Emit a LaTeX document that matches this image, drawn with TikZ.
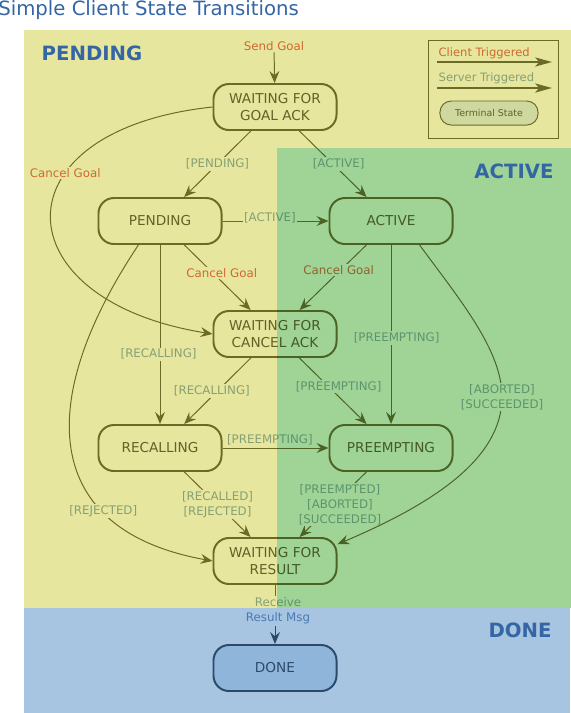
\documentclass[tikz,border=0pt]{standalone}
\usepackage{fontspec}
\setmainfont{DejaVu Sans}
\usetikzlibrary{arrows.meta}
\definecolor{pendbg}{RGB}{230,230,159}
\definecolor{actmul}{RGB}{177,236,242}
\definecolor{donebg}{RGB}{167,197,224}
\definecolor{stline}{RGB}{107,107,39}
\definecolor{sttext}{RGB}{98,98,38}
\definecolor{clientc}{RGB}{208,105,47}
\definecolor{serverc}{RGB}{135,160,115}
\definecolor{regionc}{RGB}{52,101,164}
\definecolor{termfill}{RGB}{207,216,158}
\definecolor{donefill}{RGB}{143,182,218}
\definecolor{doneline}{RGB}{43,74,107}
\definecolor{donemsg}{RGB}{74,122,181}

\begin{document}
\begin{tikzpicture}[x=0.025cm, y=0.025cm,
    state/.style={draw=stline, line width=1.4pt, rounded corners=11pt, minimum width=3.075cm, minimum height=1.15cm, align=center, text=sttext, font=\fontsize{9.7}{12}\selectfont},
    trans/.style={draw=stline, line width=0.7pt, -{Stealth[length=8.5pt, width=7pt, inset=3pt]}},
    keyarrow/.style={draw=stline, line width=1.4pt, -{Stealth[length=12pt, width=6.5pt, inset=3pt]}},
    srvlbl/.style={text=serverc, font=\fontsize{8.4}{10.6}\selectfont, align=center, inner sep=1pt},
    clilbl/.style={text=clientc, font=\fontsize{8.4}{10.6}\selectfont, align=center, inner sep=1pt},
    region/.style={text=regionc, font=\bfseries\fontsize{14}{16}\selectfont}]
        \useasboundingbox (0,0) rectangle (571,-713);
        \fill[pendbg] (24,-30) rectangle (571,-608);
        \fill[donebg] (24,-608) rectangle (570,-713);

        \node[anchor=base west, inner sep=0pt, text=regionc, font=\fontsize{14}{16}\selectfont] (title) at (-2,-15) {Simple Client State Transitions};
        \node[region] (L1) at (92,-53) {PENDING};
        \node[region] (L3) at (520,-630) {DONE};

        \draw[stline, line width=0.7pt] (428,-40) rectangle (558,-138);
        \node[clilbl, anchor=west, font=\fontsize{8.2}{10}\selectfont] (K1) at (437,-53) {Client Triggered};
        \coordinate (K1a) at (437,-62);
        \coordinate (K1b) at (552,-62);
        \draw[keyarrow] (K1a) -- (K1b);
        \node[srvlbl, anchor=west, font=\fontsize{8.2}{10}\selectfont] (K2) at (437,-78) {Server Triggered};
        \coordinate (K2a) at (437,-88);
        \coordinate (K2b) at (552,-88);
        \draw[keyarrow] (K2a) -- (K2b);
        \node[draw=stline, line width=0.7pt, fill=termfill, rounded corners=8pt, minimum width=2.45cm, minimum height=0.6cm, text=sttext, font=\fontsize{6.7}{8}\selectfont] (K3) at (489,-113) {Terminal State};

        \node[state] (S1) at (275,-107) {WAITING FOR\\GOAL ACK};
        \node[state] (S2) at (160,-221) {PENDING};
        \node[state] (S3) at (391,-221) {ACTIVE};
        \node[state] (S4) at (275,-334) {WAITING FOR\\CANCEL ACK};
        \node[state] (S5) at (160,-448) {RECALLING};
        \node[state] (S6) at (391,-448) {PREEMPTING};
        \node[state] (S7) at (275,-561) {WAITING FOR\\RESULT};
        \node[state, draw=doneline, fill=donefill, text=doneline] (S8) at (275,-668) {DONE};

        \node[clilbl] (G) at (274,-46) {Send Goal};
        \draw[trans] (G) -- (S1);
        \draw[trans] (S1) -- node[srvlbl, fill=pendbg] {[PENDING]} (S2);
        \draw[trans] (S1) -- node[srvlbl, fill=pendbg, xshift=4pt] {[ACTIVE]} (S3);
        \draw[trans] (S2) -- node[srvlbl, fill=pendbg, xshift=-4pt, yshift=2pt] {[ACTIVE]} (S3);
        \draw[trans] (S1.west) .. controls (-5,-130) and (0,-300) .. (S4.west) node[clilbl, fill=pendbg, pos=0.35] {Cancel Goal};
        \draw[trans] (S2) -- node[clilbl, fill=pendbg, xshift=3pt, yshift=3pt] {Cancel Goal} (S4);
        \draw[trans] (S3) -- node[clilbl, fill=pendbg, xshift=4pt, yshift=5pt] {Cancel Goal} (S4);
        \draw[trans] (S2) -- node[srvlbl, fill=pendbg, pos=0.61, xshift=-1pt] {[RECALLING]} (S5);
        \draw[trans] (S3) -- node[srvlbl, fill=pendbg, pos=0.52, xshift=4pt] {[PREEMPTING]} (S6);
        \draw[trans] (S4) -- node[srvlbl, fill=pendbg, xshift=-4pt] {[RECALLING]} (S5);
        \draw[trans] (S4) -- node[srvlbl, fill=pendbg, xshift=4pt, yshift=3pt] {[PREEMPTING]} (S6);
        \draw[trans] (S5) -- node[srvlbl, xshift=-4pt, yshift=6pt] {[PREEMPTING]} (S6);
        \draw[trans] (S5) -- node[srvlbl, fill=pendbg] {[RECALLED]\\{}[REJECTED]} (S7);
        \draw[trans] (S6) -- node[srvlbl, fill=pendbg, xshift=5pt] {[PREEMPTED]\\{}[ABORTED]\\{}[SUCCEEDED]} (S7);
        \draw[trans] (S2.-132) .. controls (35,-400) and (40,-530) .. (S7.west) node[srvlbl, fill=pendbg, pos=0.71] {[REJECTED]};
        \draw[trans] (S3.-40) .. controls (460,-300) and (502,-350) .. (502,-397) node[srvlbl, fill=pendbg] {[ABORTED]\\{}[SUCCEEDED]} .. controls (502,-460) and (430,-505) .. (S7.15);

        \node[srvlbl] (M) at (278,-611) {Receive\\\textcolor{donemsg}{Result Msg}};
        \draw[stline, line width=0.7pt] (S7) -- (S7 |- M.north);
        \draw[trans, draw=doneline] (S7 |- M.south) -- (S8);

        \begin{scope}[blend mode=multiply]
            \fill[actmul] (277,-148) rectangle (571,-608);
        \end{scope}
        \node[region] (L2) at (514,-171) {ACTIVE};
    \end{tikzpicture}
\end{document}
